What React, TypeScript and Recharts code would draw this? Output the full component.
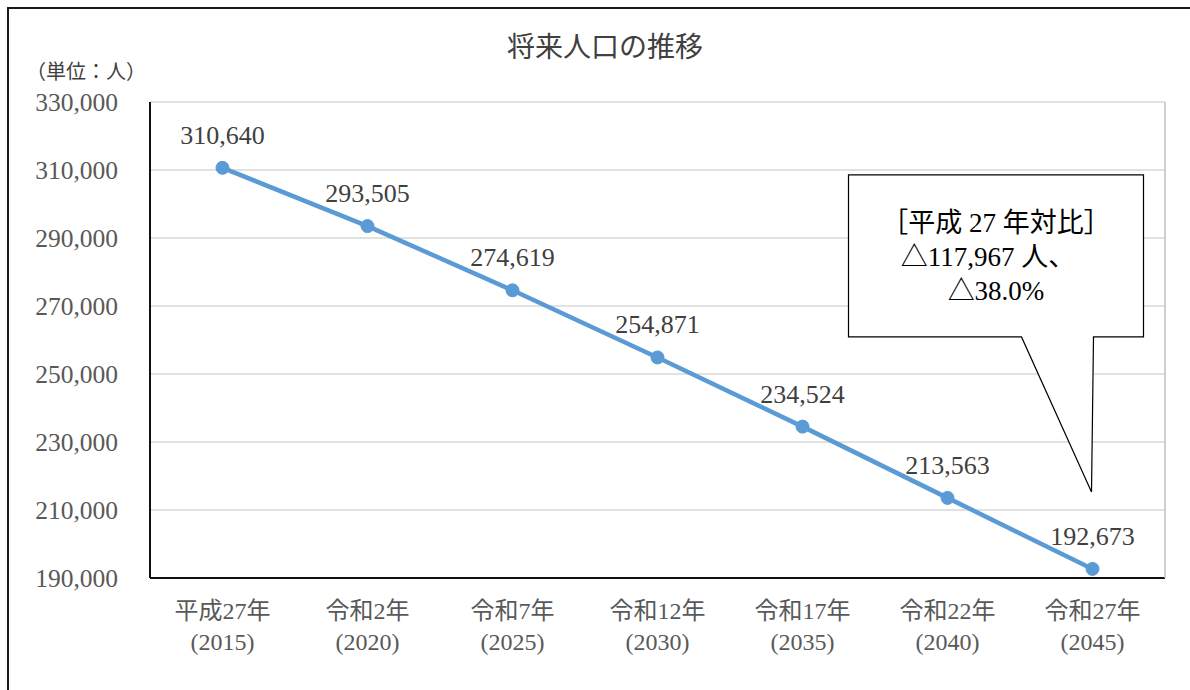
import React from "react";
import {
  LineChart,
  Line,
  XAxis,
  YAxis,
  CartesianGrid,
  LabelList,
  ReferenceDot,
} from "recharts";

const eras = ["平成27年", "令和2年", "令和7年", "令和12年", "令和17年", "令和22年", "令和27年"];
const years = ["(2015)", "(2020)", "(2025)", "(2030)", "(2035)", "(2040)", "(2045)"];
const population = [310640, 293505, 274619, 254871, 234524, 213563, 192673];
const yTicks = [190000, 210000, 230000, 250000, 270000, 290000, 310000, 330000];
const calloutLines = ["［平成 27 年対比］", "△117,967 人、", "△38.0%"];

const data = eras.map((e, i) => ({ era: e, year: years[i], value: population[i] }));

const FONT = '"Liberation Serif", "Noto Sans CJK JP", serif';
const fmt = (v: number) => v.toLocaleString("en-US");

const XTick = (props: any) => {
  const { x, y, payload, index } = props;
  const yr = years[index] ?? "";
  return (
    <g>
      <text x={x} y={y} textAnchor="middle" fill="#595959" fontSize={24} style={{ fontFamily: FONT }}>
        <tspan x={x} dy={33}>{payload.value}</tspan>
        <tspan x={x} dy={31}>{yr}</tspan>
      </text>
    </g>
  );
};

const Callout = (props: any) => {
  const { cx, cy } = props;
  if (cx == null || cy == null) return null;
  const l = cx - 244;
  const t = cy - 394;
  const r = cx + 51;
  const b = cy - 232;
  const d = `M${l},${t} L${r},${t} L${r},${b} L${cx + 1},${b} L${cx - 1},${cy - 77} L${cx - 71},${b} L${l},${b} Z`;
  const mid = (l + r) / 2;
  const st = { fontFamily: FONT };
  return (
    <g>
      <path d={d} fill="#ffffff" stroke="#000000" strokeWidth={1.2} />
      <text x={mid} y={t + 57} textAnchor="middle" fill="#000" fontSize={27} style={st}>
        {calloutLines[0]}
      </text>
      <text x={mid - 8} y={t + 91} textAnchor="middle" fill="#000" fontSize={27} style={st}>
        {calloutLines[1]}
      </text>
      <text x={mid} y={t + 125} textAnchor="middle" fill="#000" fontSize={27} style={st}>
        {calloutLines[2]}
      </text>
    </g>
  );
};

export default function App() {
  return (
    <div
      style={{
        position: "fixed",
        left: 0,
        top: 0,
        width: 1190,
        height: 690,
        overflow: "hidden",
        background: "#fff",
        fontFamily: FONT,
      }}
    >
      <style>{`svg text { font-family: "Liberation Serif", "Noto Sans CJK JP", serif; }`}</style>
      <div
        style={{
          position: "absolute",
          left: 7,
          top: 7,
          width: 1220,
          height: 720,
          border: "2px solid #1a1a1a",
          boxSizing: "border-box",
        }}
      />
      <div
        style={{
          position: "absolute",
          left: 0,
          top: 48,
          width: 1190,
          textAlign: "center",
          fontSize: 28,
          color: "#404040",
          lineHeight: "1",
          transform: "translateY(-50%)",
          paddingLeft: 20,
          boxSizing: "border-box",
        }}
      >
        将来人口の推移
      </div>
      <div
        style={{
          position: "absolute",
          left: 26,
          top: 60,
          fontSize: 20,
          color: "#404040",
          lineHeight: "1.2",
        }}
      >
        （単位：人）
      </div>
      <div style={{ position: "absolute", left: 0, top: 0 }}>
        <LineChart
          width={1190}
          height={690}
          data={data}
          margin={{ top: 102, right: 24, bottom: 0, left: 0 }}
        >
          <CartesianGrid vertical={false} stroke="#D9D9D9" strokeWidth={1.5} yAxisId="l" />
          <XAxis
            dataKey="era"
            height={112}
            tick={<XTick />}
            tickLine={false}
            axisLine={{ stroke: "#111", strokeWidth: 2 }}
            interval={0}
            padding={{ left: 72.5, right: 72.5 }}
          />
          <YAxis
            yAxisId="l"
            width={150}
            domain={[190000, 330000]}
            ticks={yTicks}
            tickFormatter={fmt}
            tickLine={false}
            tickSize={0}
            tickMargin={32}
            axisLine={{ stroke: "#111", strokeWidth: 2 }}
            tick={{ fill: "#595959", fontSize: 25.5 }}
            interval={0}
          />
          <YAxis
            yAxisId="r"
            orientation="right"
            width={1}
            domain={[190000, 330000]}
            tick={false}
            tickLine={false}
            axisLine={{ stroke: "#BFBFBF", strokeWidth: 1.5 }}
          />
          <Line
            yAxisId="l"
            type="linear"
            dataKey="value"
            stroke="#5B9BD5"
            strokeWidth={4.5}
            dot={{ r: 6.5, fill: "#5B9BD5", stroke: "#5B9BD5", strokeWidth: 1 }}
            isAnimationActive={false}
          >
            <LabelList
              dataKey="value"
              position="top"
              offset={24}
              formatter={(v: any) => fmt(Number(v))}
              fill="#404040"
              fontSize={26}
            />
          </Line>
          <ReferenceDot
            yAxisId="l"
            x={eras[eras.length - 1]}
            y={population[population.length - 1]}
            r={0}
            shape={(p: any) => <Callout {...p} />}
          />
        </LineChart>
      </div>
    </div>
  );
}
